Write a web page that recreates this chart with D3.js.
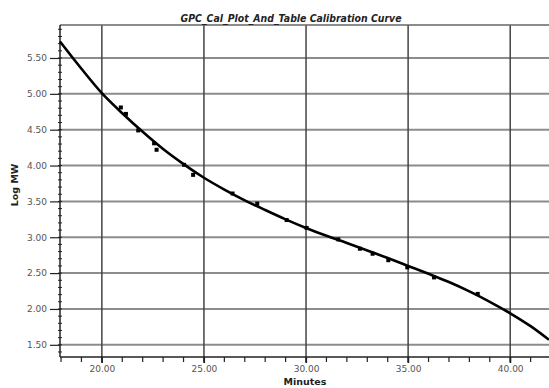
<!DOCTYPE html>
<html>
<head>
<meta charset="utf-8">
<script src="https://cdn.jsdelivr.net/npm/d3@7"></script>
<style>
  body { margin: 0; background: #fff; }
  text { font-family: "DejaVu Sans", Verdana, sans-serif; }
</style>
</head>
<body>
<svg></svg>
<script>
// calibration standards
const minutes = [20.93, 21.18, 21.78, 22.56, 22.68, 24.03, 24.47, 26.40, 27.61, 29.05, 30.03, 31.58, 32.64, 33.26, 34.03, 34.96, 36.27, 38.41];
const logMW = [4.81, 4.72, 4.49, 4.31, 4.22, 4.01, 3.87, 3.61, 3.47, 3.24, 3.13, 2.97, 2.84, 2.77, 2.68, 2.58, 2.44, 2.21];

// fitted calibration curve
const fitMinutes = [17.95, 19, 20, 21, 22, 23, 24, 25, 26, 27, 28, 29, 30, 31, 32, 33, 34, 35, 36, 37, 38, 39, 40, 41, 41.9];
const fitLogMW = [5.73, 5.35, 5.01, 4.73, 4.47, 4.23, 4.02, 3.83, 3.665, 3.515, 3.38, 3.25, 3.13, 3.02, 2.92, 2.815, 2.71, 2.60, 2.49, 2.375, 2.245, 2.10, 1.94, 1.76, 1.57];

const xTicks = [20, 25, 30, 35, 40];
const yTicks = [1.5, 2.0, 2.5, 3.0, 3.5, 4.0, 4.5, 5.0, 5.5];

const W = 549, H = 388;
const pLeft = 60, pRight = 549, pTop = 25, pBottom = 357;

const svg = d3.select('svg')
    .attr('width', W)
    .attr('height', H);

const x = d3.scaleLinear().domain([17.95, 41.9]).range([pLeft, pRight]);
const y = d3.scaleLinear().domain([1.33, 5.96]).range([pBottom, pTop]);

// horizontal grid
svg.append('g')
    .selectAll('line')
    .data(yTicks)
    .join('line')
    .attr('x1', pLeft)
    .attr('x2', pRight)
    .attr('y1', d => y(d))
    .attr('y2', d => y(d))
    .style('stroke', '#8c8c8c')
    .style('stroke-width', 2);

// vertical grid
svg.append('g')
    .selectAll('line')
    .data(xTicks)
    .join('line')
    .attr('x1', d => x(d))
    .attr('x2', d => x(d))
    .attr('y1', pTop)
    .attr('y2', pBottom + 6)
    .style('stroke', '#444')
    .style('stroke-width', 1.5);

// top border
svg.append('line')
    .attr('x1', pLeft).attr('x2', pRight)
    .attr('y1', pTop).attr('y2', pTop)
    .style('stroke', '#666')
    .style('stroke-width', 1.5);

// y axis, major ticks + labels
const yAxis = d3.axisLeft(y)
    .tickValues(yTicks)
    .tickSize(10)
    .tickPadding(3)
    .tickFormat(d3.format('.2f'));

const gy = svg.append('g')
    .attr('transform', `translate(${pLeft},0)`)
    .call(yAxis);
gy.select('.domain').remove();

// y minor ticks
svg.append('g')
    .selectAll('line')
    .data(d3.range(14, 60).map(d => d / 10).filter(d => d >= 1.33 && d <= 5.96))
    .join('line')
    .attr('x1', pLeft - 2)
    .attr('x2', pLeft + 2)
    .attr('y1', d => y(d))
    .attr('y2', d => y(d))
    .style('stroke', '#222')
    .style('stroke-width', 1);

svg.append('line')
    .attr('x1', pLeft).attr('x2', pLeft)
    .attr('y1', pTop).attr('y2', pBottom)
    .style('stroke', '#222')
    .style('stroke-width', 1.5);

// x axis
const xAxis = d3.axisBottom(x)
    .tickValues(xTicks)
    .tickSize(6)
    .tickPadding(3)
    .tickFormat(d3.format('.2f'));

const gx = svg.append('g')
    .attr('transform', `translate(0,${pBottom})`)
    .call(xAxis);
gx.select('.domain').remove();

svg.append('g')
    .selectAll('line')
    .data(d3.range(18, 42))
    .join('line')
    .attr('x1', d => x(d))
    .attr('x2', d => x(d))
    .attr('y1', pBottom)
    .attr('y2', pBottom + 5)
    .style('stroke', '#222')
    .style('stroke-width', 1.2);

svg.append('line')
    .attr('x1', pLeft).attr('x2', pRight)
    .attr('y1', pBottom).attr('y2', pBottom)
    .style('stroke', '#222')
    .style('stroke-width', 1.5);

svg.selectAll('.tick text')
    .style('font-size', '9px')
    .style('fill', '#555');
svg.selectAll('.tick line')
    .style('stroke', '#222')
    .style('stroke-width', 1.2);

// calibration curve
const line = d3.line()
    .x((d, i) => x(fitMinutes[i]))
    .y(d => y(d))
    .curve(d3.curveMonotoneX);

svg.append('path')
    .datum(fitLogMW)
    .attr('d', line)
    .attr('fill', 'none')
    .style('stroke', '#000')
    .style('stroke-width', 2.6);

// standards
svg.append('g')
    .selectAll('rect')
    .data(logMW)
    .join('rect')
    .attr('x', (d, i) => x(minutes[i]) - 2)
    .attr('y', d => y(d) - 2)
    .attr('width', 4)
    .attr('height', 4)
    .attr('fill', '#000');

// titles
svg.append('text')
    .text('GPC_Cal_Plot_And_Table Calibration Curve')
    .attr('x', 291)
    .attr('y', 22)
    .attr('text-anchor', 'middle')
    .attr('textLength', 221)
    .attr('lengthAdjust', 'spacingAndGlyphs')
    .style('font-size', '10px')
    .style('font-weight', 'bold')
    .style('font-style', 'italic')
    .style('fill', '#222');

svg.append('text')
    .text('Minutes')
    .attr('x', 305)
    .attr('y', 385)
    .attr('text-anchor', 'middle')
    .style('font-size', '9.5px')
    .style('font-weight', 'bold')
    .style('fill', '#222');

svg.append('text')
    .text('Log MW')
    .attr('transform', 'translate(18,185) rotate(-90)')
    .attr('text-anchor', 'middle')
    .style('font-size', '9.5px')
    .style('font-weight', 'bold')
    .style('fill', '#222');
</script>
</body>
</html>
